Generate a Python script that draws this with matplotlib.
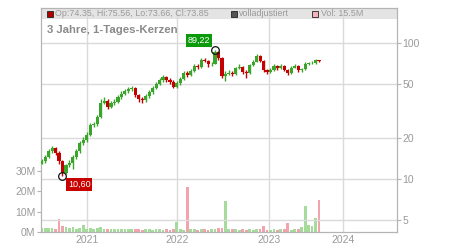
import matplotlib

matplotlib.use("Agg")
import matplotlib.pyplot as plt
import numpy as np
from matplotlib.patches import Rectangle
from matplotlib.ticker import NullLocator

plt.rcParams["font.family"] = ["Liberation Sans", "DejaVu Sans"]

# --------------------------------------------------------------------------- #
# Data: two-week candles (price in EUR, volume in millions)
# --------------------------------------------------------------------------- #
first_open = 13.0
closes = [13.5, 14.5, 16.0, 16.8, 15.6, 13.5, 11.0, 12.6, 13.2, 14.5,
          16.0, 18.4, 19.3, 21.0, 25.0, 25.2, 28.5, 36.5, 37.5, 33.8,
          36.0, 37.0, 40.0, 42.5, 44.0, 45.5, 46.5, 41.5, 38.5, 38.0,
          40.5, 43.3, 46.8, 50.0, 53.0, 56.3, 53.5, 52.0, 47.8, 50.7,
          54.0, 60.0, 58.0, 62.0, 68.0, 66.5, 75.0, 74.0, 70.0, 70.5,
          86.0, 78.0, 57.0, 59.5, 60.5, 59.5, 65.5, 67.0, 61.0, 60.0,
          68.5, 73.0, 80.0, 74.0, 63.0, 61.5, 63.5, 68.0, 65.5, 67.5,
          63.5, 60.5, 66.0, 67.5, 63.0, 64.0, 70.5, 71.0, 71.5, 74.5,
          73.85]
highs = [14.0, 15.0, 16.6, 17.6, 17.2, 16.0, 13.8, 13.0, 13.8, 15.0,
         16.6, 19.0, 20.2, 22.0, 25.8, 26.4, 29.8, 38.5, 40.0, 38.5,
         37.5, 38.5, 41.5, 44.0, 45.5, 47.5, 48.5, 47.5, 42.5, 40.0,
         42.0, 45.0, 48.5, 52.0, 55.0, 58.5, 57.5, 55.5, 53.0, 52.5,
         56.0, 62.0, 62.5, 64.5, 70.5, 70.0, 77.5, 77.0, 75.0, 73.0,
         89.22, 88.0, 79.0, 62.0, 63.0, 62.0, 67.0, 69.5, 68.0, 63.0,
         70.0, 75.0, 82.5, 81.0, 75.0, 64.5, 65.5, 70.0, 69.0, 69.5,
         68.5, 64.5, 68.0, 69.5, 68.5, 66.0, 72.5, 73.0, 73.5, 76.5,
         75.56]
lows = [12.8, 13.2, 14.2, 15.6, 15.0, 12.9, 10.6, 10.9, 12.2, 11.8,
        14.0, 15.6, 17.8, 18.8, 20.6, 24.0, 24.6, 28.0, 35.5, 32.5,
        33.0, 35.0, 36.0, 39.0, 41.5, 43.0, 44.0, 40.0, 37.0, 36.5,
        37.0, 39.5, 42.5, 45.5, 49.0, 52.0, 51.5, 50.0, 46.5, 47.0,
        49.5, 53.0, 56.5, 57.0, 61.0, 64.5, 65.5, 72.0, 67.0, 67.5,
        70.0, 75.0, 55.0, 52.5, 58.0, 57.0, 58.5, 64.0, 59.5, 55.5,
        59.0, 67.5, 72.0, 72.5, 61.5, 59.5, 60.5, 62.5, 63.5, 64.5,
        62.0, 58.5, 59.5, 65.0, 61.5, 61.5, 63.0, 69.0, 69.5, 70.5,
        72.5]
volume = [2.0, 2.2, 1.8, 2.0, 1.6, 6.5, 3.0, 2.4, 1.8, 2.7,
          1.6, 1.8, 3.5, 1.7, 2.0, 1.5, 1.8, 2.3, 1.6, 1.5,
          1.4, 1.6, 1.3, 1.5, 1.4, 1.7, 1.3, 1.6, 1.4, 1.2,
          1.3, 1.5, 1.2, 1.3, 1.4, 1.2, 1.3, 1.1, 1.4, 5.0,
          1.3, 1.2, 22.0, 1.3, 1.5, 1.2, 1.4, 1.3, 1.2, 1.3,
          1.6, 1.8, 2.0, 15.0, 1.6, 1.4, 1.3, 1.2, 1.3, 1.2,
          1.3, 1.1, 1.4, 1.5, 3.0, 1.2, 1.1, 1.3, 1.2, 1.4,
          1.3, 4.6, 1.2, 1.3, 1.6, 2.5, 13.0, 3.5, 3.0, 6.7,
          15.5]

# year gridlines, in candle-slot units
year_pos = [13.15, 39.1, 65.5, 87.0]
year_labels = ["2021", "2022", "2023", "2024"]
price_ticks = [5, 10, 20, 50, 100]
vol_ticks = [0, 10, 20, 30]

header_ohlc = "Op:74.35, Hi:75.56, Lo:73.66, Cl:73.85"
header_vol = "Vol: 15.5M"
title = "3 Jahre, 1-Tages-Kerzen"

# --------------------------------------------------------------------------- #
# Style
# --------------------------------------------------------------------------- #
GRID = "#dadada"
INK = "#9a9a9a"
FRAME = "#b4b4b4"
UP = "#3aa52a"
DOWN = "#c40000"
VOL_UP = "#a5db9b"
VOL_DOWN = "#f2a3ac"

x = np.arange(len(closes))
c = np.array(closes)
o = np.array([first_open] + closes[:-1])
up = c >= o
candle_col = np.where(up, UP, DOWN)
vol_col = np.where(up, VOL_UP, VOL_DOWN)

fig = plt.figure(figsize=(4.5, 2.5), dpi=100)
ax = fig.add_axes([41 / 450, 18 / 250, 356 / 450, 224 / 250])

# volume panel (base axes, left scale)
ax.bar(x, volume, width=0.8, color=vol_col, zorder=2)
ax.set_xlim(-0.2, 102.5)
ax.set_ylim(0, 110)
ax.set_yticks(vol_ticks)
ax.set_yticklabels([f"{v}M" for v in vol_ticks])
ax.set_xticks(year_pos)
ax.set_xticklabels(year_labels)
ax.tick_params(axis="y", length=3, color=FRAME, labelsize=7.5, labelcolor=INK, pad=1)
ax.tick_params(axis="x", length=0, labelsize=7.5, labelcolor=INK, pad=2)
for p in year_pos:
    ax.axvline(p, color=GRID, lw=1, zorder=1)
ax.add_patch(Rectangle((0, 1 - 11 / 224), 1, 11 / 224, transform=ax.transAxes,
                       fc="#e4e4e4", ec="none", zorder=0.5))
for s in ax.spines.values():
    s.set_color(FRAME)

# price panel (twin axes, log scale on the right)
axp = ax.twinx()
axp.set_yscale("log")
axp.set_ylim(4.08, 180.7)
axp.set_yticks(price_ticks)
axp.set_yticklabels([str(v) for v in price_ticks])
axp.yaxis.set_minor_locator(NullLocator())
axp.tick_params(axis="y", length=3, color=FRAME, labelsize=7.5, labelcolor=INK, pad=1)
for v in price_ticks:
    axp.axhline(v, color=GRID, lw=1, zorder=0)
for s in axp.spines.values():
    s.set_color(FRAME)

axp.vlines(x, lows, highs, colors=candle_col, lw=1.0, zorder=3)
axp.bar(x, np.abs(c - o), bottom=np.minimum(o, c), width=0.9,
        color=candle_col, zorder=3)

# extreme markers
i_hi = int(np.argmax(highs))
i_lo = int(np.argmin(lows))
for i, val in [(i_hi, highs[i_hi]), (i_lo, lows[i_lo])]:
    axp.plot(x[i], val, "o", mfc="none", mec="#111111", ms=5.5, mew=0.9, zorder=5)
axp.annotate(f"{highs[i_hi]:.2f}".replace(".", ","), xy=(x[i_hi], highs[i_hi]),
             xytext=(-11.5, 6.5), textcoords="offset points", ha="center",
             va="center", fontsize=6.5, color="white", zorder=6,
             bbox=dict(boxstyle="square,pad=0.2", fc="#0a9a0a", ec="none"))
axp.annotate(f"{lows[i_lo]:.2f}".replace(".", ","), xy=(x[i_lo], lows[i_lo]),
             xytext=(12, -6.5), textcoords="offset points", ha="center",
             va="center", fontsize=6.5, color="white", zorder=6,
             bbox=dict(boxstyle="square,pad=0.2", fc="#c80000", ec="none"))

# header legend + title
hy = 1 - 5.5 / 224
for sx, fc, tx, label in [(0.024, "#b00000", 0.039, header_ohlc),
                          (0.542, "#555555", 0.557, "volladjustiert"),
                          (0.771, "#f4b4bc", 0.787, header_vol)]:
    axp.plot([sx], [hy], "s", transform=ax.transAxes, ms=4, mfc=fc, mec="#222222",
             mew=0.6, clip_on=False, zorder=7)
    axp.text(tx, hy, label, transform=ax.transAxes, fontsize=6.4, color=INK,
             va="center", ha="left", zorder=7)
axp.text(0.017, 0.902, title, transform=ax.transAxes, fontsize=8.2,
         fontweight="bold", color="#8a8a8a", va="center", ha="left", zorder=7)

fig.savefig("out.png", dpi=100)
